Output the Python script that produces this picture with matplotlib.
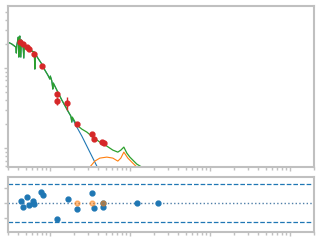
import matplotlib
matplotlib.use("Agg")
import matplotlib.pyplot as plt

# observed flux points
data_x = [0.422, 0.460, 0.516, 0.546, 0.631, 0.794, 1.22, 1.22, 1.63, 2.17, 3.35, 3.55, 4.47, 4.73]
data_y = [2.11, 2.00, 1.83, 1.73, 1.50, 1.06, 0.473, 0.387, 0.365, 0.200, 0.150, 0.130, 0.119, 0.115]
data_err = [0.10, 0.09, 0.08, 0.08, 0.07, 0.05, 0.025, 0.045, 0.065, 0.010, 0.008, 0.007, 0.007, 0.006]

# total model (green)
model_x = [0.2985, 0.3350, 0.3758, 0.3813, 0.3868, 0.3981, 0.4039, 0.4097, 0.4157, 0.4217,
           0.4340, 0.4403, 0.4597, 0.4732, 0.4801, 0.5309, 0.5957, 0.6397, 0.6494, 0.6588,
           0.7079, 0.7943, 0.8660, 0.9441, 1.0, 1.0145, 1.0593, 1.0902, 1.1059, 1.2232,
           1.4125, 1.6312, 1.8302, 1.8836, 1.9110, 2.1752, 2.5119, 2.9007, 3.4467, 4.2170,
           5.1582, 6.1306, 7.0795, 7.7179, 8.4140, 9.1728, 10.0, 10.902, 12.232, 14.125, 14.962]
total_y = [2.113, 1.995, 1.830, 1.540, 1.939, 2.239, 2.441, 1.372, 2.371, 2.512,
           1.372, 2.239, 2.054, 1.334, 1.939, 1.830, 1.631, 1.585, 0.9716, 1.496,
           1.334, 1.122, 0.944, 0.8175, 0.7289, 0.794, 0.6879, 0.5464, 0.6494, 0.5309,
           0.3981, 0.3073, 0.2512, 0.2113, 0.2441, 0.1939, 0.1727, 0.1585, 0.1373, 0.1189,
           0.1059, 0.0944, 0.0891, 0.0944, 0.1029, 0.0866, 0.0772, 0.0708, 0.0631, 0.0579, 0.0531]

# first component (blue), shares the low-energy part with the total
blue_tail_x = [1.6788, 1.8302, 1.8836, 1.9110, 2.1752, 2.5119, 2.9854, 3.3497, 3.8681, 4.2170]
blue_tail_y = [0.2901, 0.2512, 0.2113, 0.2371, 0.1830, 0.1413, 0.1, 0.0794, 0.0596, 0.0501]
blue_x = model_x[:32] + blue_tail_x
blue_y = total_y[:32] + blue_tail_y

# second component (orange)
orange_x = [2.9854, 3.1623, 3.6517, 4.2170, 5.1582, 6.1306, 7.0795, 7.7179, 8.4140,
            8.9125, 9.4406, 10.902, 12.232, 13.335]
orange_y = [0.0531, 0.0579, 0.0688, 0.0750, 0.0772, 0.0750, 0.0688, 0.0750, 0.0891,
            0.0818, 0.0750, 0.0649, 0.0579, 0.0531]

# residuals
res_x = [0.434, 0.460, 0.516, 0.546, 0.613, 0.631, 0.772, 0.818, 1.223, 1.679,
         2.175, 3.350, 3.552, 4.60, 4.66, 12.23, 22.39]
res_y = [0.26, -0.52, 0.78, -0.26, 0.26, -0.13, 1.43, 1.04, -2.08, 0.52,
         -0.78, 1.30, -0.65, 0.0, -0.52, 0.0, 0.0]
res2_x = [2.175, 3.350, 4.60]
res2_y = [0.0, 0.0, 0.0]

grey = '#c0c0c0'

fig = plt.figure(figsize=(3.2, 2.4), dpi=100)
ax = fig.add_axes([0.025, 0.304, 0.956, 0.671])
axr = fig.add_axes([0.025, 0.033, 0.956, 0.229])

ax.plot(blue_x, blue_y, color='#1f77b4', lw=0.8)
ax.plot(orange_x, orange_y, color='#ff7f0e', lw=0.8)
ax.plot(model_x, total_y, color='#2ca02c', lw=0.9)
ax.errorbar(data_x, data_y, yerr=data_err, fmt='o', color='#d62728', ms=3.5, elinewidth=1)
ax.set_xscale('log')
ax.set_yscale('log')
ax.set_xlim(0.30, 2000)
ax.set_ylim(0.058, 5.96)

axr.axhline(0, color='#4f7fa8', ls=':', lw=1)
axr.axhline(2.5, color='#1f77b4', ls='--', lw=0.9)
axr.axhline(-2.5, color='#1f77b4', ls='--', lw=0.9)
axr.plot(res_x, res_y, 'o', color='#1f77b4', ms=3.5)
axr.plot(res2_x, res2_y, 'o', color='#ff7f0e', ms=3.5, alpha=0.5)
axr.set_xscale('log')
axr.set_xlim(0.30, 2000)
axr.set_ylim(-3.8, 3.4)
axr.set_yticks([-2, 0, 2])

for a in (ax, axr):
    for s in a.spines.values():
        s.set_color(grey)
        s.set_linewidth(1.5)
    a.tick_params(which='both', colors=grey, labelleft=False, labelbottom=False)
    a.tick_params(which='major', length=3, width=1)
    a.tick_params(which='minor', length=2, width=1)

fig.savefig('out.png', dpi=100)
